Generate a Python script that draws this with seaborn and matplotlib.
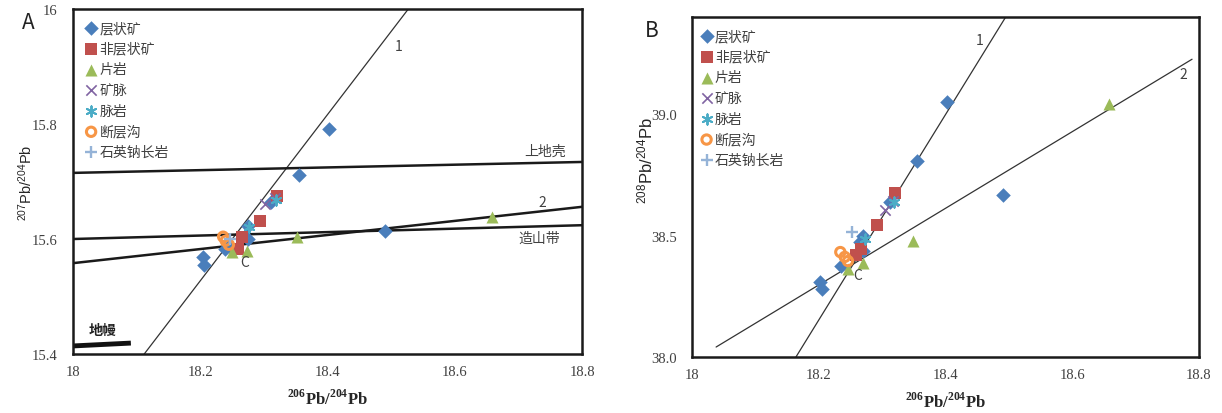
import seaborn as sns
import matplotlib.pyplot as plt
import matplotlib.ticker as mticker

# 分组名称与样式
groups = ['层状矿', '非层状矿', '片岩', '矿脉', '脉岩', '断层沟', '石英钠长岩']
colors = ['#4A7EBB', '#C0504D', '#9BBB59', '#8064A2', '#4BACC6', '#F79646', '#95B3D7']

# 图 A: 206Pb/204Pb - 207Pb/204Pb
a_x = {
    '层状矿': [18.402, 18.355, 18.311, 18.275, 18.275, 18.245, 18.239, 18.204, 18.206, 18.490],
    '非层状矿': [18.321, 18.294, 18.266, 18.259],
    '片岩': [18.352, 18.273, 18.250, 18.659],
    '矿脉': [18.302, 18.318],
    '脉岩': [18.319, 18.277],
    '断层沟': [18.236, 18.240, 18.245],
    '石英钠长岩': [18.247],
}
a_y = {
    '层状矿': [15.791, 15.711, 15.664, 15.623, 15.600, 15.588, 15.583, 15.569, 15.555, 15.614],
    '非层状矿': [15.675, 15.631, 15.603, 15.583],
    '片岩': [15.603, 15.579, 15.577, 15.638],
    '矿脉': [15.661, 15.671],
    '脉岩': [15.668, 15.621],
    '断层沟': [15.604, 15.597, 15.590],
    '石英钠长岩': [15.600],
}

# 图 B: 206Pb/204Pb - 208Pb/204Pb
b_x = {
    '层状矿': [18.402, 18.355, 18.312, 18.270, 18.265, 18.270, 18.235, 18.202, 18.205, 18.491],
    '非层状矿': [18.320, 18.292, 18.266, 18.259],
    '片岩': [18.349, 18.270, 18.246, 18.658],
    '矿脉': [18.317, 18.305],
    '脉岩': [18.273, 18.319],
    '断层沟': [18.234, 18.241, 18.246],
    '石英钠长岩': [18.252],
}
b_y = {
    '层状矿': [39.049, 38.807, 38.638, 38.498, 38.473, 38.436, 38.374, 38.309, 38.280, 38.667],
    '非层状矿': [38.675, 38.543, 38.445, 38.420],
    '片岩': [38.477, 38.387, 38.362, 39.041],
    '矿脉': [38.642, 38.605],
    '脉岩': [38.486, 38.640],
    '断层沟': [38.432, 38.412, 38.395],
    '石英钠长岩': [38.514],
}

# 参考线端点
a_line1 = ([18.112, 18.527], [15.4, 16.0])
a_line2 = ([18.0, 18.8], [15.558, 15.656])
a_crust = ([18.0, 18.8], [15.715, 15.734])
a_orogen = ([18.0, 18.8], [15.600, 15.624])
a_mantle = ([18.0, 18.091], [15.414, 15.419])
b_line1 = ([18.164, 18.495], [38.0, 39.4])
b_line2 = ([18.038, 18.789], [38.041, 39.226])

marker_kw = {
    '层状矿': dict(marker='D', s=55, linewidth=0),
    '非层状矿': dict(marker='s', s=75, linewidth=0),
    '片岩': dict(marker='^', s=75, linewidth=0),
    '矿脉': dict(marker='x', s=55, linewidth=1.2),
    '脉岩': dict(marker=(6, 2, 0), s=55, linewidth=1.4),
    '断层沟': dict(marker='o', s=45, linewidth=2.2),
    '石英钠长岩': dict(marker='+', s=70, linewidth=1.7),
}

sns.set_style('white')
plt.rcParams['font.family'] = ['Noto Sans CJK SC', 'DejaVu Sans']
plt.rcParams['mathtext.fontset'] = 'custom'
plt.rcParams['mathtext.rm'] = 'Liberation Serif:bold'
plt.rcParams['mathtext.sf'] = 'Liberation Sans'

fig = plt.figure(figsize=(12.22, 4.14), dpi=100)
axA = fig.add_axes([0.0597, 0.1425, 0.4166, 0.8333])
axB = fig.add_axes([0.5663, 0.1353, 0.4149, 0.8213])

grey = '#404040'


def draw_points(ax, xs, ys):
    for g, c in zip(groups, colors):
        kw = dict(marker_kw[g])
        if g == '断层沟':
            sns.scatterplot(x=xs[g], y=ys[g], ax=ax, label=g, facecolor='none',
                            edgecolor=c, zorder=3, **kw)
        elif kw['marker'] in ('x', '+') or isinstance(kw['marker'], tuple):
            sns.scatterplot(x=xs[g], y=ys[g], ax=ax, label=g, color=c, zorder=3, **kw)
        else:
            sns.scatterplot(x=xs[g], y=ys[g], ax=ax, label=g, color=c,
                            edgecolor=c, zorder=3, **kw)


def style_axes(ax, xlab_y, leg_anchor):
    for sp in ax.spines.values():
        sp.set_linewidth(1.8)
        sp.set_color('#1a1a1a')
    ax.tick_params(axis='both', direction='out', length=3, width=1.2, color='#333333',
                   labelsize=10.5, labelcolor=grey, pad=5)
    ax.tick_params(axis='y', pad=8)
    for lab in ax.get_xticklabels() + ax.get_yticklabels():
        lab.set_fontfamily('Liberation Serif')
    ax.set_xlabel(r'$^{\mathrm{206}}\mathrm{Pb/}^{\mathrm{204}}\mathrm{Pb}$', fontsize=12)
    ax.xaxis.set_label_coords(0.5, xlab_y)
    leg = ax.legend(loc='upper left', bbox_to_anchor=leg_anchor, frameon=False,
                    fontsize=10, handletextpad=0.1, labelspacing=0.48,
                    borderaxespad=0, handlelength=1.0, borderpad=0)
    for t in leg.get_texts():
        t.set_color(grey)


# ---- 图 A ----
draw_points(axA, a_x, a_y)
axA.plot(*a_line1, color='#333333', lw=0.9, zorder=2)
axA.plot(*a_line2, color='#1a1a1a', lw=1.8, zorder=2)
axA.plot(*a_crust, color='#1a1a1a', lw=1.8, zorder=2)
axA.plot(*a_orogen, color='#1a1a1a', lw=1.8, zorder=2)
axA.plot(*a_mantle, color='#111111', lw=3.5, zorder=2, solid_capstyle='butt')
axA.set_xlim(18, 18.8)
axA.set_ylim(15.4, 16.0)
axA.set_xticks([18, 18.2, 18.4, 18.6, 18.8])
axA.set_xticklabels(['18', '18.2', '18.4', '18.6', '18.8'])
axA.set_yticks([15.4, 15.6, 15.8, 16.0])
axA.set_yticklabels(['15.4', '15.6', '15.8', '16'])
style_axes(axA, -0.1, (0.022, 0.965))
axA.set_ylabel(r'$\mathsf{^{207}Pb/^{204}Pb}$', fontsize=10.5)
axA.yaxis.set_label_coords(-0.075, 0.5)
axA.text(18.511, 15.936, '1', fontsize=10, color=grey, ha='center', va='center')
axA.text(18.737, 15.665, '2', fontsize=10, color=grey, ha='center', va='center')
axA.text(18.269, 15.560, 'C', fontsize=10, color=grey, ha='center', va='center')
axA.text(18.775, 15.753, '上地壳', fontsize=10, color=grey, ha='right', va='center')
axA.text(18.765, 15.603, '造山带', fontsize=10, color=grey, ha='right', va='center')
axA.text(18.047, 15.442, '地幔', fontsize=10, color='#222222', ha='center', va='center',
         fontweight='bold')
fig.text(0.018, 0.945, 'A', fontsize=15, color='#222222', ha='left', va='center')

# ---- 图 B ----
draw_points(axB, b_x, b_y)
axB.plot(*b_line1, color='#333333', lw=0.9, zorder=2)
axB.plot(*b_line2, color='#333333', lw=0.9, zorder=2)
axB.set_xlim(18, 18.8)
axB.set_ylim(38.0, 39.4)
axB.set_xticks([18, 18.2, 18.4, 18.6, 18.8])
axB.set_xticklabels(['18', '18.2', '18.4', '18.6', '18.8'])
axB.set_yticks([38.0, 38.5, 39.0])
axB.yaxis.set_major_formatter(mticker.FormatStrFormatter('%.1f'))
style_axes(axB, -0.1, (0.015, 0.965))
axB.set_ylabel(r'$\mathsf{^{208}Pb/^{204}Pb}$', fontsize=12)
axB.yaxis.set_label_coords(-0.07, 0.58)
axB.text(18.454, 39.305, '1', fontsize=10, color=grey, ha='center', va='center')
axB.text(18.775, 39.165, '2', fontsize=10, color=grey, ha='center', va='center')
axB.text(18.262, 38.337, 'C', fontsize=10, color=grey, ha='center', va='center')
fig.text(0.528, 0.925, 'B', fontsize=15, color='#222222', ha='left', va='center')

fig.savefig('out.png', dpi=100, facecolor='white')
